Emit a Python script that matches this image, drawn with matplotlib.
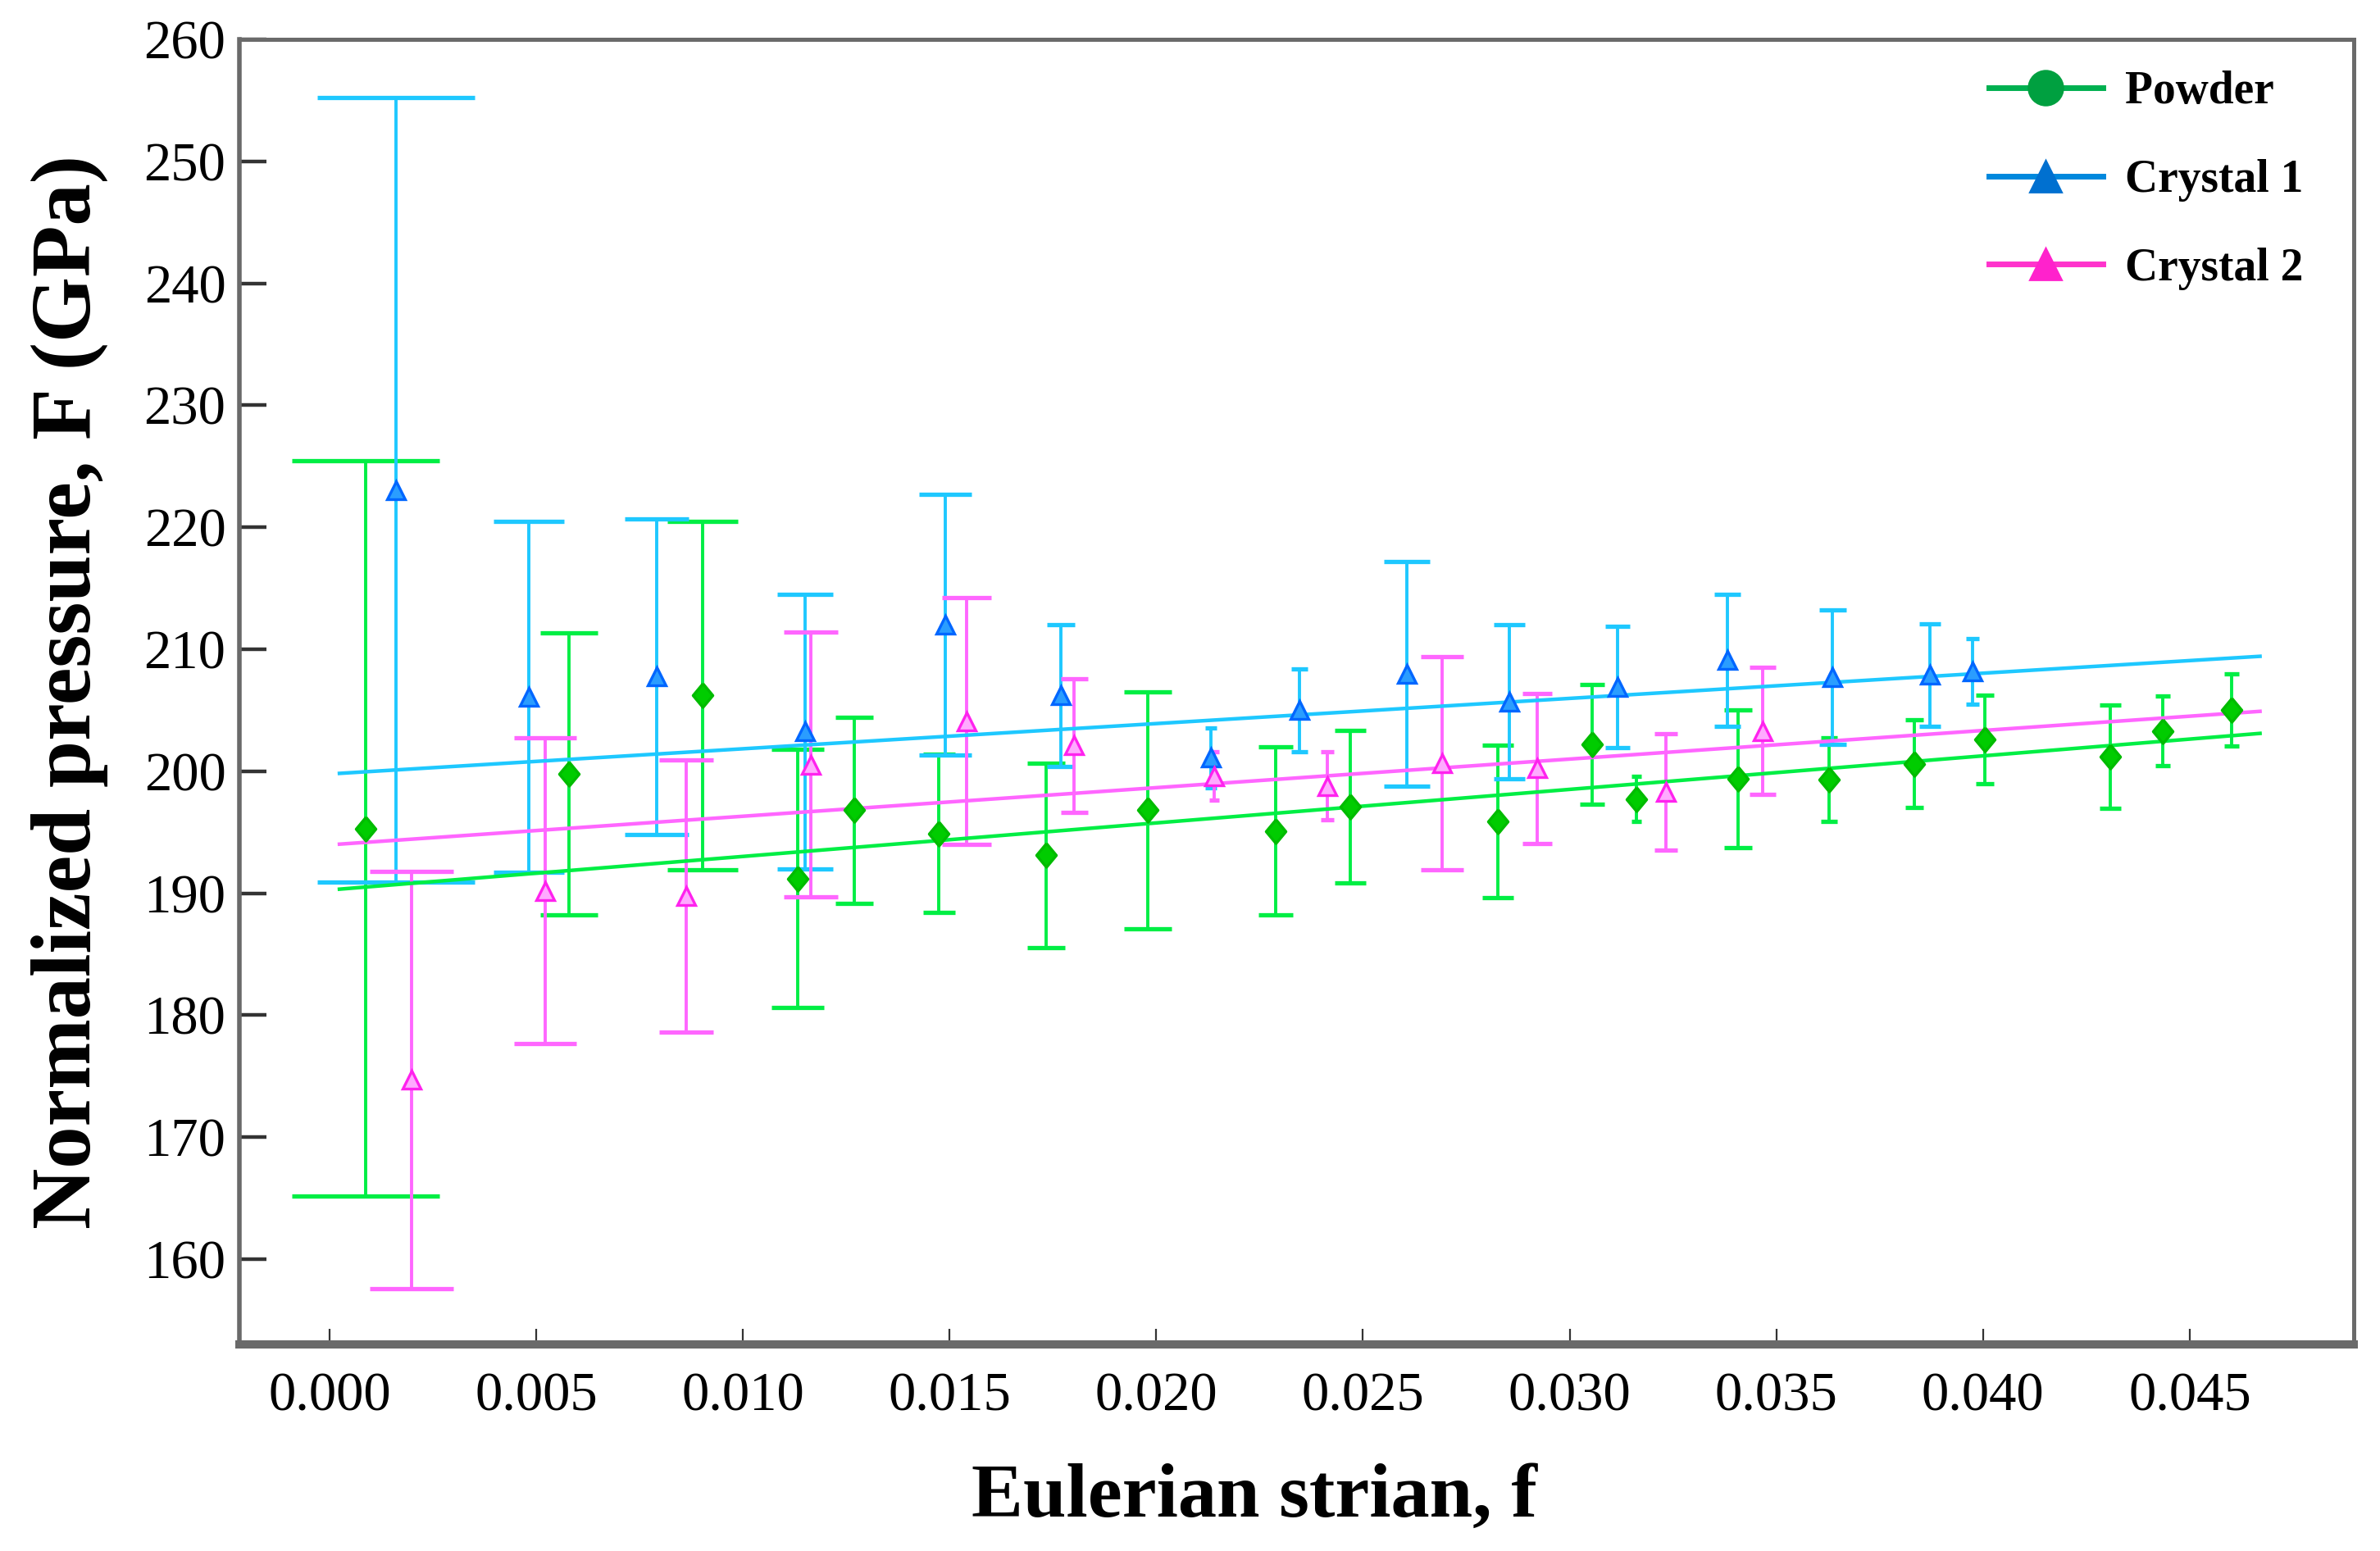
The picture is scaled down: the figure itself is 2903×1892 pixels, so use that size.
import numpy as np
import matplotlib
matplotlib.use('Agg')
import matplotlib.pyplot as plt
from matplotlib.lines import Line2D

# Шрифт с засечками, как в оригинале
plt.rcParams['font.family'] = ['Liberation Serif', 'DejaVu Serif']
plt.rcParams['axes.unicode_minus'] = False

# ---- данные ----
powder_x = [0.00088, 0.0058, 0.00902, 0.01133, 0.01269, 0.01474, 0.01733, 0.0198, 0.02288, 0.02469,
            0.02827, 0.03054, 0.03162, 0.03407, 0.03627, 0.03834, 0.04004, 0.04307, 0.04434, 0.04601]
powder_y = [195.3, 199.8, 206.2, 191.2, 196.8, 194.9, 193.1, 196.8, 195.1, 197.1,
            195.9, 202.2, 197.7, 199.4, 199.3, 200.6, 202.6, 201.2, 203.3, 205.0]
powder_err = [30.15, 11.55, 14.3, 10.6, 7.65, 6.5, 7.55, 9.7, 6.9, 6.25,
              6.25, 4.9, 1.85, 5.65, 3.45, 3.6, 3.65, 4.25, 2.85, 2.95]

crystal1_x = [0.0016, 0.00483, 0.00791, 0.01151, 0.01489, 0.0177, 0.02132, 0.02346, 0.02607, 0.02855,
              0.03115, 0.03382, 0.03635, 0.03871, 0.03974]
crystal1_y = [223.05, 206.1, 207.75, 203.25, 212.0, 206.2, 201.1, 205.0, 208.0, 205.7,
              206.9, 209.1, 207.7, 207.9, 208.2]
crystal1_err = [32.15, 14.4, 12.95, 11.25, 10.7, 5.8, 2.45, 3.4, 9.2, 6.3,
                5.0, 5.4, 5.5, 4.2, 2.7]

crystal2_x = [0.00199, 0.00522, 0.00863, 0.01164, 0.01542, 0.01801, 0.0214, 0.02413, 0.02691, 0.02921,
              0.03232, 0.03467]
crystal2_y = [174.7, 190.2, 189.75, 200.55, 204.1, 202.1, 199.6, 198.8, 200.65, 200.25,
              198.3, 203.3]
crystal2_err = [17.1, 12.55, 11.15, 10.85, 10.1, 5.5, 2.0, 2.8, 8.75, 6.15,
                4.8, 5.2]

# линейные аппроксимации: (свободный член, наклон)
fit_range = [0.00024, 0.0467]
powder_fit = (190.26, 274.9)
crystal1_fit = (199.77, 206.6)
crystal2_fit = (193.96, 234.4)

x_ticks = [0.000, 0.005, 0.010, 0.015, 0.020, 0.025, 0.030, 0.035, 0.040, 0.045]
y_ticks = [160, 170, 180, 190, 200, 210, 220, 230, 240, 250, 260]

# ---- рисование ----
fig = plt.figure(figsize=(14.515, 9.46), dpi=200)
ax = fig.add_axes([0.1006, 0.1332, 0.8884, 0.8414])

diamond = [(0, 1), (0.83, 0), (0, -1), (-0.83, 0), (0, 1)]
cap_ratio = 1.08  # ширина засечки растёт с величиной погрешности

series = [
    (powder_x, powder_y, powder_err, powder_fit, '#00ee44', '#00cc00', diamond, 10.5, '#00bb00'),
    (crystal1_x, crystal1_y, crystal1_err, crystal1_fit, '#1ec8ff', '#2a9dff', '^', 8, '#0066ff'),
    (crystal2_x, crystal2_y, crystal2_err, crystal2_fit, '#ff66ff', '#ffaaff', '^', 8, '#ff22ee'),
]

fx = np.array(fit_range)
for xs, ys, errs, fit, ecol, mfc, mk, ms, mec in series:
    for x, y, e in zip(xs, ys, errs):
        ax.errorbar([x], [y], yerr=[e], fmt='none', ecolor=ecol, elinewidth=1.4,
                    capsize=cap_ratio * e, capthick=1.9, zorder=2)
    ax.plot(fx, fit[0] + fit[1] * fx, color=ecol, lw=1.6, zorder=3)

for xs, ys, errs, fit, ecol, mfc, mk, ms, mec in series:
    ax.plot(xs, ys, linestyle='none', marker=mk, markersize=ms, markerfacecolor=mfc,
            markeredgecolor=mec, markeredgewidth=1.2, zorder=4)

ax.set_xlim(-0.00218, 0.04897)
ax.set_ylim(153.0, 260.0)
ax.set_xticks(x_ticks)
ax.set_xticklabels([f'{t:.3f}' for t in x_ticks])
ax.set_yticks(y_ticks)

ax.tick_params(axis='x', direction='in', length=7, width=0.8, color='#333333',
               labelsize=24, pad=12)
ax.tick_params(axis='y', direction='in', length=12, width=1.6, color='#333333',
               labelsize=24, pad=6)

for side, lw in [('left', 2.0), ('bottom', 3.6), ('top', 1.8), ('right', 1.8)]:
    ax.spines[side].set_linewidth(lw)
    ax.spines[side].set_color('#6a6a6a')

ax.set_ylabel('Normalized pressure, F (GPa)', fontsize=37, fontweight='bold')
ax.yaxis.set_label_coords(-0.062, 0.5)
ax.set_xlabel('Eulerian strian, f', fontsize=34, fontweight='bold')
ax.xaxis.set_label_coords(0.48, -0.091)

handles = [
    Line2D([], [], color='#00b050', lw=2.5, marker='o', markersize=15,
           markerfacecolor='#00a040', markeredgecolor='#00a040'),
    Line2D([], [], color='#0088dd', lw=2.5, marker='^', markersize=14,
           markerfacecolor='#0070d0', markeredgecolor='#0070d0'),
    Line2D([], [], color='#ff33cc', lw=2.5, marker='^', markersize=14,
           markerfacecolor='#ff22cc', markeredgecolor='#ff22cc'),
]
leg = fig.legend(handles, ['Powder', 'Crystal 1', 'Crystal 2'], loc='upper left',
                 bbox_to_anchor=(0.826, 0.969), frameon=False,
                 prop={'weight': 'bold', 'size': 20}, handlelength=2.5,
                 handletextpad=0.5, labelspacing=1.0, borderpad=0)

fig.savefig('out.png', dpi=200)
